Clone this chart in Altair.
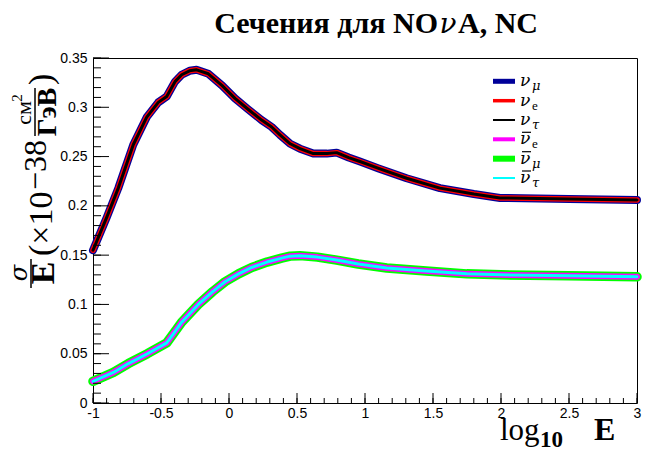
import altair as alt
import pandas as pd

# ---- data ----
log10E_nu = [-1.0, -0.9, -0.814, -0.704, -0.605, -0.52, -0.458, -0.397, -0.348, -0.29,
             -0.238, -0.152, -0.05, 0.044, 0.14, 0.24, 0.314, 0.375, 0.45, 0.522,
             0.62, 0.72, 0.792, 0.88, 0.963, 1.1, 1.306, 1.551, 1.8, 1.993, 2.5, 3.0]
sigma_nu_mu = [0.155, 0.188, 0.218, 0.262, 0.290, 0.305, 0.311, 0.326, 0.333, 0.337,
               0.338, 0.334, 0.322, 0.309, 0.298, 0.287, 0.280, 0.272, 0.263, 0.258,
               0.253, 0.253, 0.254, 0.249, 0.245, 0.238, 0.228, 0.218, 0.212, 0.208, 0.207, 0.206]
sigma_nu_e = list(sigma_nu_mu)
sigma_nu_tau = list(sigma_nu_mu)

log10E_anu = [-1.0, -0.85, -0.74, -0.6, -0.458, -0.40, -0.348, -0.226, -0.12, -0.029,
              0.07, 0.167, 0.28, 0.387, 0.45, 0.522, 0.65, 0.792, 0.95, 1.16,
              1.45, 1.748, 2.0, 2.5, 3.0]
sigma_anu_e = [0.022, 0.031, 0.040, 0.050, 0.061, 0.072, 0.082, 0.100, 0.113, 0.123,
               0.131, 0.1375, 0.143, 0.147, 0.149, 0.1495, 0.148, 0.145, 0.141, 0.137,
               0.134, 0.131, 0.130, 0.129, 0.128]
sigma_anu_mu = list(sigma_anu_e)
sigma_anu_tau = list(sigma_anu_e)

x_major = [-1, -0.5, 0, 0.5, 1, 1.5, 2, 2.5, 3]
y_major = [0, 0.05, 0.1, 0.15, 0.2, 0.25, 0.3, 0.35]
x_minor = [round(-1 + 0.1 * i, 2) for i in range(41)]
y_minor = [round(0.01 * i, 2) for i in range(36)]

# series: name, x, y, color, line width (drawing order)
series = [
    ("nu_mu", log10E_nu, sigma_nu_mu, "#000099", 8),
    ("nu_e", log10E_nu, sigma_nu_e, "#ff0000", 5.5),
    ("nu_tau", log10E_nu, sigma_nu_tau, "#000000", 3),
    ("anu_mu", log10E_anu, sigma_anu_mu, "#00ff00", 9.5),
    ("anu_e", log10E_anu, sigma_anu_e, "#ff00ff", 6),
    ("anu_tau", log10E_anu, sigma_anu_tau, "#00ffff", 3),
]

W, H = 544, 345
xs = alt.Scale(domain=[-1, 3], nice=False, zero=False)
ys = alt.Scale(domain=[0, 0.35], nice=False, zero=False)
AX = alt.Axis(values=x_major, format=".1~f", labelExpr="replace(datum.label, '\u2212', '-')",
              ticks=False, domain=False, grid=False, title=None, labelFlush=False,
              labelFont="Liberation Sans", labelFontSize=14, labelColor="black", labelPadding=3)
AY = alt.Axis(values=y_major, format=".2~f", labelExpr="replace(datum.label, '\u2212', '-')",
              ticks=False, domain=False, grid=False, title=None, labelFlush=False,
              labelFont="Liberation Sans", labelFontSize=14, labelColor="black", labelPadding=6)

layers = []
for name, xv, yv, col, sw in series:
    df = pd.DataFrame({"x": xv, "y": yv})
    layers.append(alt.Chart(df).mark_line(color=col, strokeWidth=sw, strokeJoin="round",
                                          strokeCap="round").encode(
        x=alt.X("x:Q", scale=xs, axis=AX), y=alt.Y("y:Q", scale=ys, axis=AY)))

# ticks (inside)
def xticks(vals, size):
    return alt.Chart(pd.DataFrame({"x": vals})).mark_rule(color="black", strokeWidth=1).encode(
        x=alt.X("x:Q", scale=xs, axis=AX), y=alt.value(H), y2=alt.value(H - size))

def yticks(vals, size):
    return alt.Chart(pd.DataFrame({"y": vals})).mark_rule(color="black", strokeWidth=1).encode(
        y=alt.Y("y:Q", scale=ys, axis=AY), x=alt.value(0), x2=alt.value(size))

layers += [xticks(x_minor, 5), xticks(x_major, 10), yticks(y_minor, 8), yticks(y_major, 16)]

one = pd.DataFrame({"a": [0]})

def txt(s, x, y, size, font="Liberation Serif", weight="normal", style="normal",
        angle=0, align="left", baseline="alphabetic"):
    return alt.Chart(one).mark_text(text=s, font=font, fontSize=size, fontWeight=weight,
                                    fontStyle=style, angle=angle, align=align,
                                    baseline=baseline, color="black").encode(
        x=alt.value(x), y=alt.value(y))

def hrule(x1, x2, y, col, sw):
    return alt.Chart(one).mark_rule(color=col, strokeWidth=sw).encode(
        x=alt.value(x1), x2=alt.value(x2), y=alt.value(y))

def vrule(x, y1, y2, sw=1.5):
    return alt.Chart(one).mark_rule(color="black", strokeWidth=sw).encode(
        x=alt.value(x), y=alt.value(y1), y2=alt.value(y2))

OX, OY = 93, 58  # plot origin in the page

# title
layers.append(txt("Сечения для NO", 438 - OX, 33 - OY, 30, weight="bold", align="right"))
layers.append(txt("ν", 448 - OX, 33 - OY, 28, font="DejaVu Serif", style="italic", align="center"))
layers.append(txt("A, NC", 458 - OX, 33 - OY, 30, weight="bold", align="left"))

# x axis title  log10 E
layers.append(txt("log", 500 - OX, 440 - OY, 31))
layers.append(txt("10", 540 - OX, 447 - OY, 23, weight="bold"))
layers.append(txt("E", 594 - OX, 440 - OY, 32, weight="bold"))

# y axis title  sigma/E (x10^-38 cm^2/GeV), rotated
layers.append(txt("E", 54 - OX, 273 - OY, 34, weight="bold", angle=270, align="center"))
layers.append(txt("σ", 27 - OX, 273 - OY, 24, font="DejaVu Serif", style="italic",
                  angle=270, align="center"))
layers.append(vrule(31 - OX, 259 - OY, 288 - OY))
layers.append(txt("(×10", 52 - OX, 256 - OY, 34, angle=270, align="left"))
layers.append(txt("−38", 46 - OX, 190 - OY, 32, angle=270, align="left"))
layers.append(txt("см", 31 - OX, 113 - OY, 22, angle=270, align="center"))
layers.append(txt("2", 22 - OX, 98 - OY, 15, angle=270, align="center"))
layers.append(vrule(35 - OX, 88 - OY, 136 - OY))
layers.append(txt("ГэВ", 56 - OX, 112 - OY, 28, weight="bold", angle=270, align="center"))
layers.append(txt(")", 52 - OX, 85 - OY, 34, angle=270, align="left"))

# legend
leg_rows = [81.3, 100.7, 120, 139.3, 158.7, 178]
leg_bar = [False, False, False, True, True, True]
leg_sub = ["μ", "e", "τ", "e", "μ", "τ"]
leg_sub_font = ["DejaVu Serif", "Liberation Serif", "DejaVu Serif",
                "Liberation Serif", "DejaVu Serif", "DejaVu Serif"]
leg_sub_style = ["italic", "normal", "italic", "normal", "italic", "italic"]
leg_col = ["#000099", "#ff0000", "#000000", "#ff00ff", "#00ff00", "#00ffff"]
leg_w = [5, 3.5, 2, 4, 6, 2]
for r, b, s, sf, st, c, w in zip(leg_rows, leg_bar, leg_sub, leg_sub_font, leg_sub_style,
                                 leg_col, leg_w):
    layers.append(hrule(493 - OX, 515 - OX, r - OY, c, w))
    layers.append(txt("ν", 520 - OX, r + 5 - OY, 17, font="DejaVu Serif", style="italic"))
    layers.append(txt(s, 532 - OX, r + 9 - OY, 13, font=sf, style=st))
    if b:
        layers.append(hrule(522 - OX, 531 - OX, r - 7 - OY, "black", 1.2))

chart = alt.layer(*layers).properties(
    width=W, height=H,
    autosize=alt.AutoSizeParams(type="none"),
    padding={"left": OX, "top": OY, "right": 660 - OX - W, "bottom": 451 - OY - H},
    background="white",
).configure_view(stroke="black", strokeWidth=1)

chart.save("out.html", embed_options={"renderer": "svg", "actions": False})
